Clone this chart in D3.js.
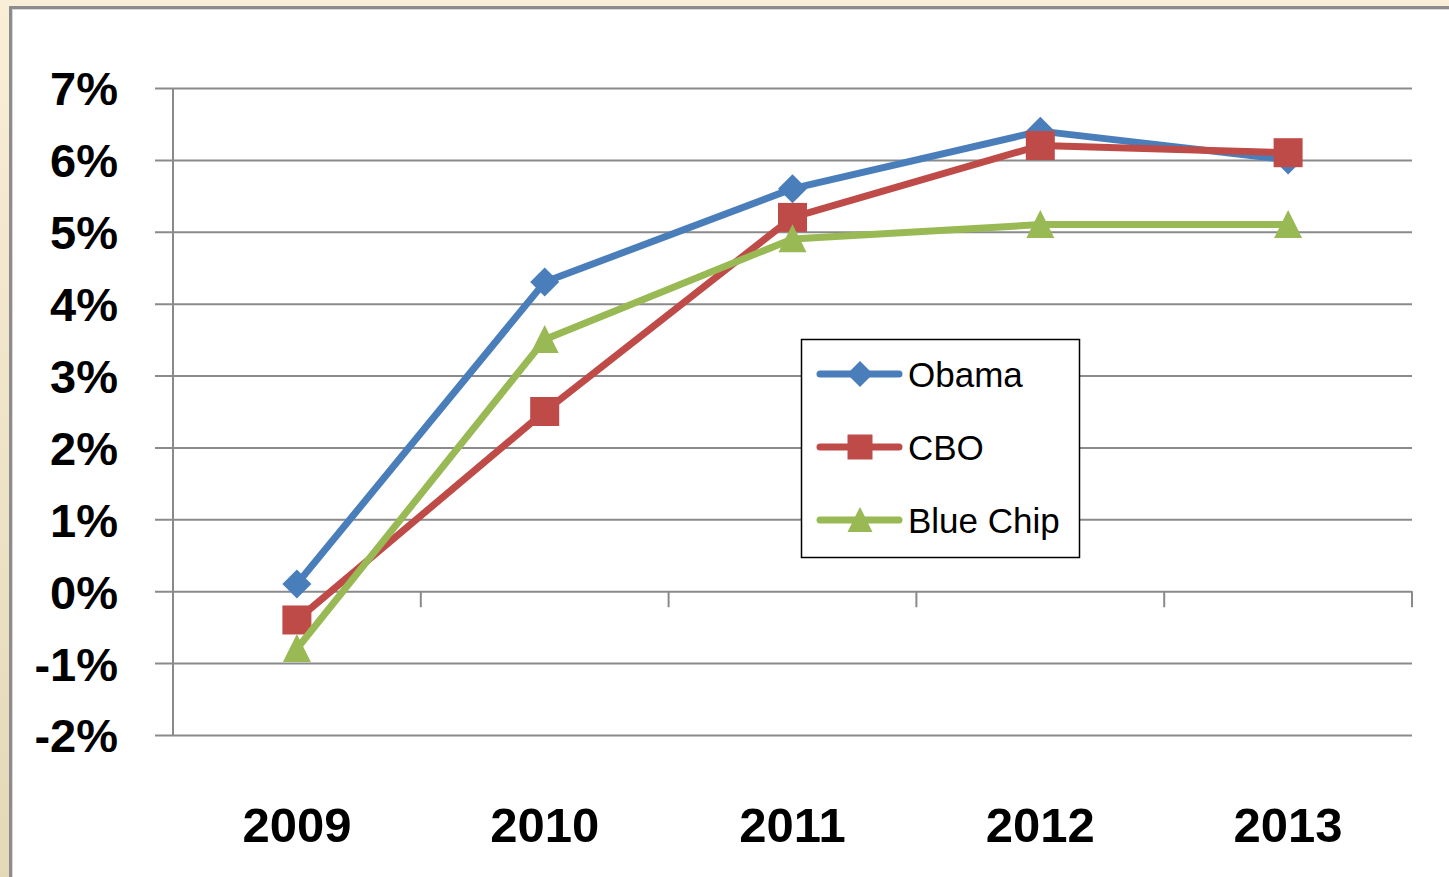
<!DOCTYPE html>
<html>
<head>
<meta charset="utf-8">
<script src="https://cdn.jsdelivr.net/npm/d3@7"></script>
<style>
  html, body { margin: 0; padding: 0; }
  body { width: 1449px; height: 877px; overflow: hidden; }
  svg { display: block; }
</style>
</head>
<body>
<svg id="chart" width="1449" height="877"></svg>
<script>
// Real GDP growth forecasts, by year
const years = ["2009", "2010", "2011", "2012", "2013"];
const obama = [0.1, 4.3, 5.6, 6.4, 6.0];
const cbo = [-0.4, 2.5, 5.2, 6.2, 6.1];
const blueChip = [-0.8, 3.5, 4.9, 5.1, 5.1];
const seriesNames = ["Obama", "CBO", "Blue Chip"];
const yTicks = [-2, -1, 0, 1, 2, 3, 4, 5, 6, 7];

const series = [
  { name: seriesNames[0], values: obama, color: "#4a7ebb", marker: "diamond" },
  { name: seriesNames[1], values: cbo, color: "#be4b48", marker: "square" },
  { name: seriesNames[2], values: blueChip, color: "#98b954", marker: "triangle" }
];

const svg = d3.select("#chart");
const W = 1449, H = 877;

// Backdrop: beige frame with a white panel
const defs = svg.append("defs");
const grad = defs.append("linearGradient").attr("id", "frame")
  .attr("x1", 0).attr("y1", 0).attr("x2", 0).attr("y2", 1);
grad.append("stop").attr("offset", "0%").attr("stop-color", "#f9eed7");
grad.append("stop").attr("offset", "100%").attr("stop-color", "#e3d9b8");
svg.append("rect").attr("width", W).attr("height", H).attr("fill", "url(#frame)");
svg.append("rect").attr("x", 9).attr("y", 6).attr("width", W - 9).attr("height", H - 6).attr("fill", "#8c8c8c");
svg.append("rect").attr("x", 12).attr("y", 9).attr("width", W - 12).attr("height", H - 9).attr("fill", "#d8d8d8");
svg.append("rect").attr("x", 13).attr("y", 10).attr("width", W - 13).attr("height", H - 10).attr("fill", "#ffffff");

// Scales
const plotLeft = 173, plotRight = 1412, plotTop = 88, plotBottom = 735;
const x = d3.scaleBand().domain(years).range([plotLeft, plotRight]);
const y = d3.scaleLinear().domain([-2, 7]).range([plotBottom, plotTop]);

// Horizontal gridlines (extend left of the axis as tick marks)
const yAxis = d3.axisLeft(y).tickValues(yTicks)
  .tickSize(-(plotRight - plotLeft)).tickFormat(d => d + "%").tickPadding(0);
const gy = svg.append("g").attr("transform", `translate(${plotLeft},0)`).call(yAxis);
gy.select(".domain").remove();
gy.selectAll(".tick line").attr("x1", -18).attr("stroke", "#8a8a8a").attr("stroke-width", 2);
gy.selectAll(".tick text")
  .attr("x", -55)
  .attr("dy", "0.36em")
  .attr("text-anchor", "end")
  .style("font-family", "'Liberation Sans', Arial, sans-serif")
  .style("font-weight", "bold")
  .style("font-size", "47px")
  .attr("fill", "#000");

// Vertical axis line
svg.append("line")
  .attr("x1", plotLeft).attr("x2", plotLeft)
  .attr("y1", y(7)).attr("y2", y(-2))
  .attr("stroke", "#8a8a8a").attr("stroke-width", 2);

// Category axis along the zero line: tick marks between categories
const gx = svg.append("g");
gx.selectAll("line.cat").data(years).join("line")
  .attr("x1", d => x(d) + x.bandwidth())
  .attr("x2", d => x(d) + x.bandwidth())
  .attr("y1", y(0)).attr("y2", y(0) + 16)
  .attr("stroke", "#8a8a8a").attr("stroke-width", 2);

// Year labels
svg.append("g").selectAll("text").data(years).join("text")
  .attr("x", d => x(d) + x.bandwidth() / 2)
  .attr("y", 842)
  .attr("text-anchor", "middle")
  .style("font-family", "'Liberation Sans', Arial, sans-serif")
  .style("font-weight", "bold")
  .style("font-size", "49px")
  .attr("fill", "#000")
  .text(d => d);

// Marker shapes
function markerPath(type, s) {
  if (type === "diamond") return `M0,${-s}L${s},0L0,${s}L${-s},0Z`;
  if (type === "square") return `M${-s},${-s}H${s}V${s}H${-s}Z`;
  return `M0,${-s * 1.05}L${s},${s * 0.95}H${-s}Z`;
}
const markerSize = { diamond: 14.5, square: 14.5, triangle: 14 };

const line = d3.line()
  .x((d, i) => x(years[i]) + x.bandwidth() / 2)
  .y(d => y(d));

series.forEach(s => {
  const g = svg.append("g");
  g.append("path")
    .attr("d", line(s.values))
    .attr("fill", "none")
    .attr("stroke", s.color)
    .attr("stroke-width", 7)
    .attr("stroke-linejoin", "round")
    .attr("stroke-linecap", "round");
  g.selectAll("path.m").data(s.values).join("path")
    .attr("class", "m")
    .attr("transform", (d, i) => `translate(${x(years[i]) + x.bandwidth() / 2},${y(d)})`)
    .attr("d", markerPath(s.marker, markerSize[s.marker]))
    .attr("fill", s.color);
});

// Legend
const legend = svg.append("g");
legend.append("rect")
  .attr("x", 801.5).attr("y", 339.5).attr("width", 278).attr("height", 218)
  .attr("fill", "#ffffff").attr("stroke", "#000").attr("stroke-width", 1.5);
const rowY = [374, 447, 520];
series.forEach((s, i) => {
  const ry = rowY[i];
  legend.append("line")
    .attr("x1", 820).attr("x2", 899).attr("y1", ry).attr("y2", ry)
    .attr("stroke", s.color).attr("stroke-width", 7).attr("stroke-linecap", "round");
  legend.append("path")
    .attr("transform", `translate(860,${ry})`)
    .attr("d", markerPath(s.marker, s.marker === "diamond" ? 13 : 12.5))
    .attr("fill", s.color);
  legend.append("text")
    .attr("x", 908).attr("y", ry + 13)
    .style("font-family", "'Liberation Sans', Arial, sans-serif")
    .style("font-size", "35px")
    .attr("fill", "#000")
    .text(s.name);
});
</script>
</body>
</html>
